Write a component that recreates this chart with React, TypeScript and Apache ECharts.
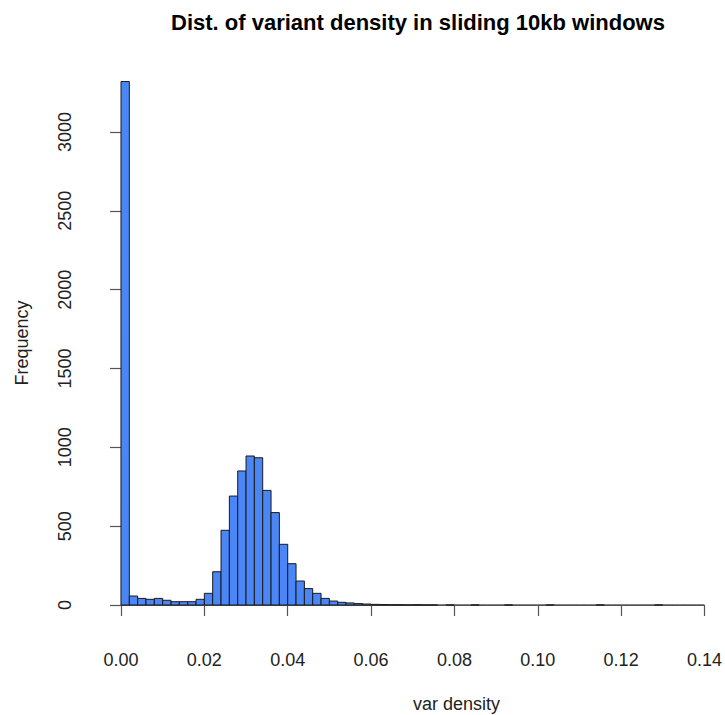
import React, { useEffect, useRef } from "react";
import * as echarts from "echarts";

const binWidth = 0.002;
const binStart = 0;
const counts: number[] = [
  3320, 57, 42, 36, 42, 30, 21, 21, 21, 36,
  74, 211, 474, 691, 850, 945, 934, 727, 586, 385,
  262, 152, 104, 74, 42, 25, 17, 13, 9, 6,
  4, 3, 2, 2, 1, 2, 1, 1, 0, 1,
  0, 0, 1, 0, 0, 0, 1, 0, 0, 0,
  0, 1, 0, 0, 0, 0, 0, 1, 0, 0,
  0, 0, 0, 0, 1, 0, 0, 0, 0, 0,
];
const xTicks = [0, 0.02, 0.04, 0.06, 0.08, 0.1, 0.12, 0.14];
const yTicks = [0, 500, 1000, 1500, 2000, 2500, 3000];
const titleText = "Dist. of variant density in sliding 10kb windows";
const xName = "var density";
const yName = "Frequency";

const FONT = "'Liberation Sans', Arial, Helvetica, sans-serif";

export default function App() {
  const ref = useRef<HTMLDivElement>(null);
  useEffect(() => {
    if (!ref.current) return;
    const chart = echarts.init(ref.current, null, { renderer: "svg" });
    const data = counts.map((c, i) => [binStart + i * binWidth, binStart + (i + 1) * binWidth, c]);
    chart.setOption({
      animation: false,
      backgroundColor: "#ffffff",
      title: {
        text: titleText,
        left: 413,
        top: 6,
        textAlign: "center",
        textStyle: { fontFamily: FONT, fontSize: 22, fontWeight: "bold", color: "#000" },
      },
      grid: { left: 121, right: 19, top: 132, bottom: 110 },
      xAxis: {
        type: "value",
        min: xTicks[0],
        max: xTicks[xTicks.length - 1],
        interval: 0.02,
        offset: 22,
        splitLine: { show: false },
        axisLine: { show: true, lineStyle: { color: "#555", width: 1.2 } },
        axisTick: { show: true, length: 11, lineStyle: { color: "#555", width: 1.2 } },
        axisLabel: {
          margin: 24,
          fontFamily: FONT,
          fontSize: 18,
          color: "#222",
          formatter: (v: number) => v.toFixed(2),
          showMinLabel: true,
          showMaxLabel: true,
        },
      },
      yAxis: {
        type: "value",
        min: yTicks[0],
        max: yTicks[yTicks.length - 1],
        interval: 500,
        offset: 23,
        splitLine: { show: false },
        axisLine: { show: true, lineStyle: { color: "#555", width: 1.2 } },
        axisTick: { show: true, length: 11, lineStyle: { color: "#555", width: 1.2 } },
        axisLabel: {
          rotate: 90,
          margin: 24,
          fontFamily: FONT,
          fontSize: 18,
          color: "#222",
          formatter: (v: number) => String(v),
        },
      },
      graphic: [
        {
          type: "text",
          left: 413,
          top: 695,
          style: { text: xName, fontFamily: FONT, fontSize: 18, fill: "#222", align: "center" },
        },
        {
          type: "text",
          x: 22,
          y: 343,
          rotation: Math.PI / 2,
          style: {
            text: yName,
            fontFamily: FONT,
            fontSize: 18,
            fill: "#222",
            align: "center",
            verticalAlign: "middle",
          },
        },
      ],
      series: [
        {
          type: "custom",
          clip: false,
          data,
          renderItem: (params: any, api: any) => {
            const x0 = api.value(0);
            const x1 = api.value(1);
            const c = api.value(2);
            const p0 = api.coord([x0, 0]);
            const p1 = api.coord([x1, c]);
            if (c === 0) {
              return {
                type: "line",
                shape: { x1: p0[0], y1: p0[1], x2: p1[0], y2: p0[1] },
                style: { stroke: "#555", lineWidth: 1.5 },
              };
            }
            return {
              type: "rect",
              shape: { x: p0[0], y: p1[1], width: p1[0] - p0[0], height: p0[1] - p1[1] },
              style: { fill: "#4a86f6", stroke: "#1a1a1a", lineWidth: 1 },
            };
          },
        },
      ],
    });
    return () => chart.dispose();
  }, []);
  return (
    <div
      ref={ref}
      style={{ position: "absolute", left: 0, top: 0, width: 725, height: 715 }}
    />
  );
}
